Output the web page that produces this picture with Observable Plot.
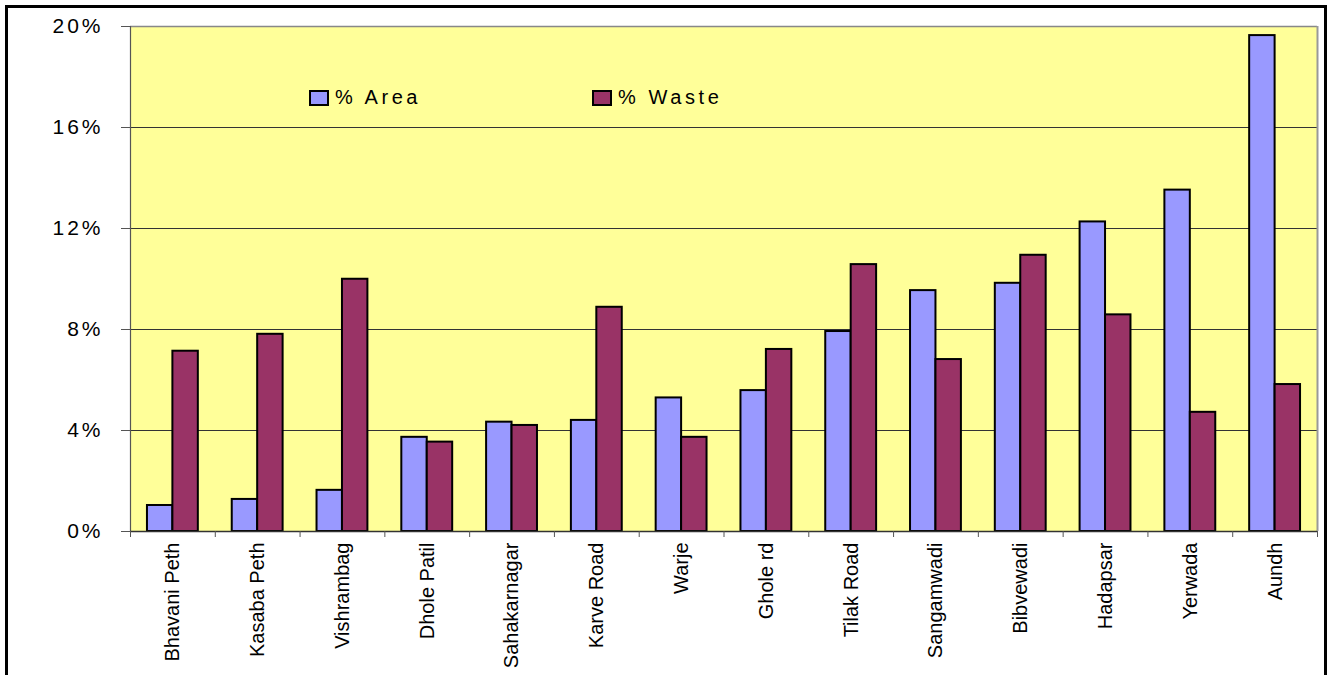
<!DOCTYPE html>
<html>
<head>
<meta charset="utf-8">
<script src="https://cdn.jsdelivr.net/npm/d3@7"></script>
<script src="https://cdn.jsdelivr.net/npm/@observablehq/plot@0.6"></script>
<style>
  html, body { margin: 0; padding: 0; background: #fff; overflow: hidden; }
  #wrap { position: relative; width: 1328px; height: 675px; overflow: hidden; font-family: "Liberation Sans", Arial, sans-serif; }
  #frame { position: absolute; left: 5px; top: 5px; width: 1322px; height: 760px; box-sizing: border-box; border: 3px solid #000; pointer-events: none; }
  #chart svg { display: block; }
  #chart g[aria-label="y-axis tick label"] text { letter-spacing: 3px; }
  .leg { position: absolute; top: 86px; display: flex; align-items: center; font-size: 20px; letter-spacing: 3.6px; color: #000; }
  .sw { width: 20px; height: 16px; box-sizing: border-box; border: 2px solid #000; margin-right: 6px; }
</style>
</head>
<body>
<div id="wrap">
  <div id="chart"></div>
  <div id="legend"></div>
  <div id="frame"></div>
</div>
<script>
const districts = ["Bhavani Peth", "Kasaba Peth", "Vishrambag", "Dhole Patil", "Sahakarnagar", "Karve Road", "Warje", "Ghole rd", "Tilak Road", "Sangamwadi", "Bibvewadi", "Hadapsar", "Yerwada", "Aundh"];
const areaPct  = [1.03, 1.27, 1.63, 3.73, 4.33, 4.40, 5.29, 5.58, 7.92, 9.54, 9.83, 12.26, 13.52, 19.64];
const wastePct = [7.14, 7.81, 9.99, 3.54, 4.20, 8.88, 3.73, 7.21, 10.57, 6.81, 10.94, 8.58, 4.72, 5.82];
const seriesNames = ["% Area", "% Waste"];
const seriesColors = ["#9999FF", "#993366"];
const yTicks = [0, 4, 8, 12, 16, 20];

const rows = [];
districts.forEach((d, i) => {
  rows.push({i, district: d, series: seriesNames[0], value: areaPct[i]});
  rows.push({i, district: d, series: seriesNames[1], value: wastePct[i]});
});

const chart = Plot.plot({
  width: 1328,
  height: 675,
  marginLeft: 130,
  marginRight: 11,
  marginTop: 26,
  marginBottom: 144,
  style: { fontFamily: "'Liberation Sans', Arial, sans-serif", background: "transparent", color: "#000" },
  x: { domain: [0, districts.length], label: null },
  y: { domain: [0, 20], label: null },
  color: { domain: seriesNames, range: seriesColors },
  marks: [
    Plot.frame({ fill: "#FFFF99", stroke: null }),
    Plot.ruleY(yTicks.filter(t => t > 0 && t < 20), { stroke: "#333", strokeWidth: 1 }),
    Plot.ruleY([20], { stroke: "#888", strokeWidth: 1.5 }),
    Plot.ruleX([districts.length], { stroke: "#999", strokeWidth: 2 }),
    Plot.rect(rows, {
      x1: d => d.i + (d.series === seriesNames[0] ? 0.2 : 0.5),
      x2: d => d.i + (d.series === seriesNames[0] ? 0.5 : 0.8),
      y1: 0,
      y2: "value",
      fill: "series",
      stroke: "#000",
      strokeWidth: 2
    }),
    Plot.ruleX([0], { stroke: "#555", strokeWidth: 1.2 }),
    Plot.ruleY([0], { stroke: "#333", strokeWidth: 1.5 }),
    Plot.axisY({ ticks: yTicks, tickFormat: d => d + "%", tickSize: 9, tickPadding: 18, fontSize: 21, stroke: "#555", label: null }),
    Plot.axisX({ ticks: d3.range(districts.length + 1), tickSize: 6, tickFormat: () => "", stroke: "#555", label: null }),
    Plot.axisX({ ticks: districts.map((_, i) => i + 0.5), tickSize: 0, tickPadding: 11, tickRotate: -90, fontSize: 20, tickFormat: v => districts[Math.floor(v)], label: null })
  ]
});
document.getElementById("chart").appendChild(chart);

const legendLefts = [309, 592];
const legend = document.getElementById("legend");
seriesNames.forEach((name, k) => {
  const item = document.createElement("div");
  item.className = "leg";
  item.style.left = legendLefts[k] + "px";
  const sw = document.createElement("div");
  sw.className = "sw";
  sw.style.background = seriesColors[k];
  const tx = document.createElement("span");
  tx.textContent = name;
  item.appendChild(sw);
  item.appendChild(tx);
  legend.appendChild(item);
});
</script>
</body>
</html>
